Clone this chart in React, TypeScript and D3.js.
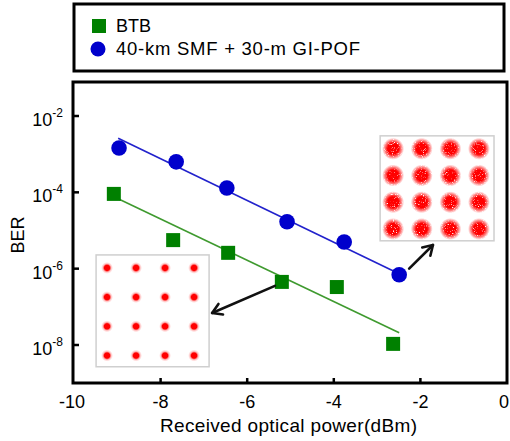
import React from "react";
import * as d3 from "d3";

// ---- data ----
const btbPower = [-9.08, -7.71, -6.44, -5.2, -3.93, -2.63];
const btbBER = [9.1e-5, 5.6e-6, 2.6e-6, 4.5e-7, 3.3e-7, 1.07e-8];
const smfPower = [-8.96, -7.64, -6.47, -5.08, -3.76, -2.49];
const smfBER = [1.45e-3, 6.3e-4, 1.3e-4, 1.7e-5, 5.0e-6, 6.9e-7];
// fitted trend lines (end points)
const btbFitPower = [-8.98, -2.49];
const btbFitBER = [6.8e-5, 2.1e-8];
const smfFitPower = [-8.98, -2.54];
const smfFitBER = [2.6e-3, 7.8e-7];
const xTicks = [-10, -8, -6, -4, -2, 0];
const yTickExp = [-2, -4, -6, -8];
const legendLabels = ["BTB", "40-km SMF + 30-m GI-POF"];
const qamLevels = [-3, -1, 1, 3];
// inset boxes in data coordinates [x0, x1, logY0, logY1]
const insetBtb = [-9.49, -6.88, -5.64, -8.57];
const insetSmf = [-2.93, -0.3, -2.52, -5.27];
// arrows [x0, logY0, x1, logY1]
const arrowBtb = [-5.36, -6.45, -6.81, -7.16];
const arrowSmf = [-2.26, -6.0, -1.71, -5.38];

const FONT = "'Liberation Sans', Arial, Helvetica, sans-serif";
const GREEN = "#008000";
const BLUE = "#0000cc";

const x = d3.scaleLinear().domain([-10, 0]).range([74, 507]);
const y = d3.scaleLog().domain([1e-8, 1e-2]).range([345, 116]);

function Arrow({ a }: { a: number[] }) {
  const x0 = x(a[0]), y0 = y(Math.pow(10, a[1]));
  const x1 = x(a[2]), y1 = y(Math.pow(10, a[3]));
  const ang = Math.atan2(y1 - y0, x1 - x0);
  const L = 11, spread = 0.55;
  const p1 = [x1 - L * Math.cos(ang - spread), y1 - L * Math.sin(ang - spread)];
  const p2 = [x1 - L * Math.cos(ang + spread), y1 - L * Math.sin(ang + spread)];
  return (
    <g stroke="#111" strokeWidth={2.6} fill="none" strokeLinecap="round" strokeLinejoin="round">
      <line x1={x0} y1={y0} x2={x1} y2={y1} />
      <polyline points={`${p1[0]},${p1[1]} ${x1},${y1} ${p2[0]},${p2[1]}`} />
    </g>
  );
}

function Inset({ box, fr, blobR, grad, filter }: { box: number[]; fr: number[]; blobR: number; grad: string; filter?: string }) {
  const bx0 = x(box[0]), bx1 = x(box[1]);
  const by0 = y(Math.pow(10, box[2])), by1 = y(Math.pow(10, box[3]));
  const w = bx1 - bx0, h = by1 - by0;
  const qx = d3.scaleLinear().domain([-3, 3]).range([bx0 + w * fr[0], bx0 + w * fr[1]]);
  const qy = d3.scaleLinear().domain([3, -3]).range([by0 + h * fr[2], by0 + h * fr[3]]);
  return (
    <g>
      <rect x={bx0} y={by0} width={w} height={h} fill="#fff" stroke="#cfcfcf" strokeWidth={1.5} />
      <g filter={filter}>
        {qamLevels.map((i) =>
          qamLevels.map((q) => (
            <circle key={`${i}_${q}`} cx={qx(i)} cy={qy(q)} r={blobR} fill={`url(#${grad})`} />
          ))
        )}
      </g>
    </g>
  );
}

export default function App() {
  const smfLine = d3.line<number>().x((d, i) => x(smfFitPower[i])).y((d) => y(d));
  const btbLine = d3.line<number>().x((d, i) => x(btbFitPower[i])).y((d) => y(d));
  return (
    <svg width={510} height={441} style={{ position: "absolute", left: 0, top: 0, background: "#fff" }} fontFamily={FONT}>
      <defs>
        <radialGradient id="dotSharp">
          <stop offset="0%" stopColor="#ff0000" stopOpacity={1} />
          <stop offset="45%" stopColor="#ff0000" stopOpacity={1} />
          <stop offset="70%" stopColor="#ff3030" stopOpacity={0.3} />
          <stop offset="100%" stopColor="#ff6060" stopOpacity={0} />
        </radialGradient>
        <radialGradient id="dotNoisy">
          <stop offset="0%" stopColor="#ff0000" stopOpacity={1} />
          <stop offset="50%" stopColor="#ff0000" stopOpacity={1} />
          <stop offset="75%" stopColor="#ff1010" stopOpacity={0.55} />
          <stop offset="100%" stopColor="#ff4040" stopOpacity={0} />
        </radialGradient>
        <filter id="speckle" x="0" y="0" width="100%" height="100%">
          <feTurbulence type="fractalNoise" baseFrequency="0.9" numOctaves={2} seed={4} result="noise" />
          <feColorMatrix in="noise" type="matrix" values="0 0 0 0 0  0 0 0 0 0  0 0 0 0 0  0 0 0 5 -1.0" result="mask" />
          <feComposite in="SourceGraphic" in2="mask" operator="in" />
        </filter>
      </defs>

      {/* legend */}
      <rect x={74} y={4} width={430} height={67} fill="#fff" stroke="#000" strokeWidth={3} />
      <rect x={92} y={19} width={14} height={14} fill={GREEN} />
      <text x={116} y={32} fontSize={18}>{legendLabels[0]}</text>
      <circle cx={98} cy={49} r={7.5} fill={BLUE} />
      <text x={116} y={55} fontSize={18.5} textLength={244} lengthAdjust="spacing">{legendLabels[1]}</text>

      {/* plot frame */}
      <rect x={73} y={82} width={434} height={301} fill="#fff" stroke="#000" strokeWidth={3} />

      {/* ticks */}
      {xTicks.filter((t) => t > -10 && t < 0).map((t) => (
        <line key={t} x1={x(t)} x2={x(t)} y1={383} y2={378} stroke="#000" strokeWidth={2.5} />
      ))}
      {yTickExp.map((e) => (
        <line key={e} x1={73} x2={79} y1={y(Math.pow(10, e))} y2={y(Math.pow(10, e))} stroke="#000" strokeWidth={2.5} />
      ))}
      {xTicks.map((t) => (
        <text key={t} x={x(t) - (t === -10 ? 2 : t === 0 ? 3 : 0)} y={408} fontSize={18} textAnchor="middle">{t}</text>
      ))}
      {yTickExp.map((e) => (
        <text key={e} x={63} y={y(Math.pow(10, e)) + 10} fontSize={18} textAnchor="end">
          10<tspan fontSize={12} dy={-9}>{e}</tspan>
        </text>
      ))}

      {/* axis titles */}
      <text transform="translate(24,235) rotate(-90)" fontSize={18} textAnchor="middle">BER</text>
      <text x={160} y={432} fontSize={19} textLength={257} lengthAdjust="spacing">Received optical power(dBm)</text>

      {/* insets */}
      <Inset box={insetBtb} fr={[0.097, 0.867, 0.116, 0.9]} blobR={6} grad="dotSharp" />
      <Inset box={insetSmf} fr={[0.114, 0.868, 0.123, 0.887]} blobR={11} grad="dotNoisy" filter="url(#speckle)" />

      {/* fit lines */}
      <path d={smfLine(smfFitBER) || ""} stroke="#2222cc" strokeWidth={1.6} fill="none" />
      <path d={btbLine(btbFitBER) || ""} stroke="#3f9a2f" strokeWidth={1.6} fill="none" />

      {/* markers */}
      {smfPower.map((p, i) => (
        <circle key={i} cx={x(p)} cy={y(smfBER[i])} r={7.8} fill={BLUE} />
      ))}
      {btbPower.map((p, i) => (
        <rect key={i} x={x(p) - 7} y={y(btbBER[i]) - 7} width={14} height={14} fill={GREEN} />
      ))}

      {/* arrows */}
      <Arrow a={arrowBtb} />
      <Arrow a={arrowSmf} />
    </svg>
  );
}
